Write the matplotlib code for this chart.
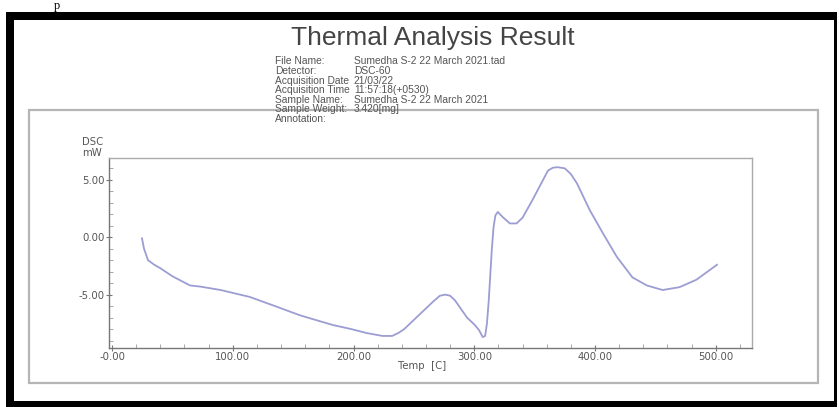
import matplotlib
matplotlib.use("Agg")
import matplotlib.pyplot as plt
from matplotlib.patches import Rectangle
from matplotlib.ticker import MultipleLocator

# ---- data ----
temp = [24.8, 26.5, 29.8, 35, 40, 50, 64.6, 73, 90, 114, 135, 155.6, 170, 183, 198, 211,
        224, 232, 237, 242, 247, 254, 261, 266, 271.5, 276, 280, 284, 288, 294, 300.5,
        304, 307, 309, 310.5, 312, 314.5, 316, 317.5, 319.5, 323.7, 329.5, 335, 340,
        348.5, 355, 361, 365, 369, 375, 380, 385, 395.7, 406.5, 418, 431, 442.9, 456,
        470, 484, 501]
dsc = [-0.1, -1.0, -2.0, -2.4, -2.7, -3.4, -4.2, -4.3, -4.6, -5.2, -6.0, -6.8, -7.25,
       -7.65, -8.0, -8.35, -8.6, -8.6, -8.35, -8.0, -7.5, -6.8, -6.1, -5.6, -5.1, -5.0,
       -5.1, -5.5, -6.1, -7.0, -7.65, -8.1, -8.7, -8.6, -7.5, -5.5, -1.1, 0.9, 1.9, 2.2,
       1.74, 1.2, 1.2, 1.7, 3.3, 4.6, 5.8, 6.05, 6.1, 6.0, 5.5, 4.7, 2.35, 0.35, -1.7,
       -3.5, -4.2, -4.6, -4.35, -3.7, -2.4]
x_ticks = [0, 100, 200, 300, 400, 500]
x_tick_labels = ["-0.00", "100.00", "200.00", "300.00", "400.00", "500.00"]
y_ticks = [-5, 0, 5]
y_tick_labels = ["-5.00", "0.00", "5.00"]

header_labels = ["File Name:", "Detector:", "Acquisition Date", "Acquisition Time",
                 "Sample Name:", "Sample Weight:", "Annotation:"]
header_values = ["Sumedha S-2 22 March 2021.tad", "DSC-60", "21/03/22",
                 "11:57:18(+0530)", "Sumedha S-2 22 March 2021", "3.420[mg]", ""]

W, H = 839, 407
fig = plt.figure(figsize=(W / 100, H / 100), dpi=100)
fig.patch.set_facecolor("white")

def fx(px):
    return px / W

def fy(py):
    return 1 - py / H

# black outer border
for (x0, y0, w, h) in [(6, 12, 8, 395), (6, 12, 831, 8), (6, 401, 831, 6), (834, 12, 3, 395)]:
    fig.patches.append(Rectangle((fx(x0), fy(y0 + h)), w / W, h / H,
                                 transform=fig.transFigure, facecolor="black",
                                 edgecolor="none", zorder=5))
# inner gray frame
fig.patches.append(Rectangle((fx(29), fy(383)), (818 - 29) / W, (383 - 110) / H,
                             transform=fig.transFigure, facecolor="none",
                             edgecolor="#b5b5b5", lw=1.6, zorder=1))

# partial character at the very top
fig.text(fx(57), fy(0.5), "p", family="Liberation Serif", fontsize=9, color="black",
         ha="center", va="top")

# header
fig.text(fx(433), fy(38), "Thermal Analysis Result", family="Liberation Sans",
         fontsize=19, color="#444444", ha="center", va="center")
for i, (lab, val) in enumerate(zip(header_labels, header_values)):
    yy = 61.5 + 9.6 * i
    fig.text(fx(275), fy(yy), lab, family="Liberation Sans", fontsize=7.4,
             color="#555555", ha="left", va="center")
    if val:
        fig.text(fx(354), fy(yy), val, family="Liberation Sans", fontsize=7.4,
                 color="#555555", ha="left", va="center")

# axes
ax = fig.add_axes([fx(109), fy(348), (752 - 109) / W, (348 - 158) / H])
ax.plot(temp, dsc, color="#9c9dd2", lw=1.3, solid_joinstyle="round")
ax.set_xlim(-2.5, 530)
ax.set_ylim(-9.65, 6.9)
ax.set_xticks(x_ticks)
ax.set_xticklabels(x_tick_labels)
ax.set_yticks(y_ticks)
ax.set_yticklabels(y_tick_labels)
ax.xaxis.set_minor_locator(MultipleLocator(20))
ax.yaxis.set_minor_locator(MultipleLocator(1))
ax.tick_params(axis="both", which="major", direction="inout", length=5, width=0.8,
               color="#777777", labelsize=7.3, labelcolor="#555555", pad=0.5)
ax.tick_params(axis="both", which="minor", direction="in", length=3, width=0.6,
               color="#999999")
for lbl in ax.get_xticklabels() + ax.get_yticklabels():
    lbl.set_family("DejaVu Sans")
for side, sp in ax.spines.items():
    sp.set_color("#777777" if side in ("left", "bottom") else "#aaaaaa")
    sp.set_linewidth(1.0)

fig.text(fx(82), fy(142), "DSC", family="DejaVu Sans", fontsize=7.3,
         color="#555555", ha="left", va="center")
fig.text(fx(82), fy(153), "mW", family="DejaVu Sans", fontsize=7.3,
         color="#555555", ha="left", va="center")
fig.text(fx(398), fy(366), "Temp  [C]", family="DejaVu Sans", fontsize=7.3,
         color="#555555", ha="left", va="center")

fig.savefig("out.png", dpi=100)
